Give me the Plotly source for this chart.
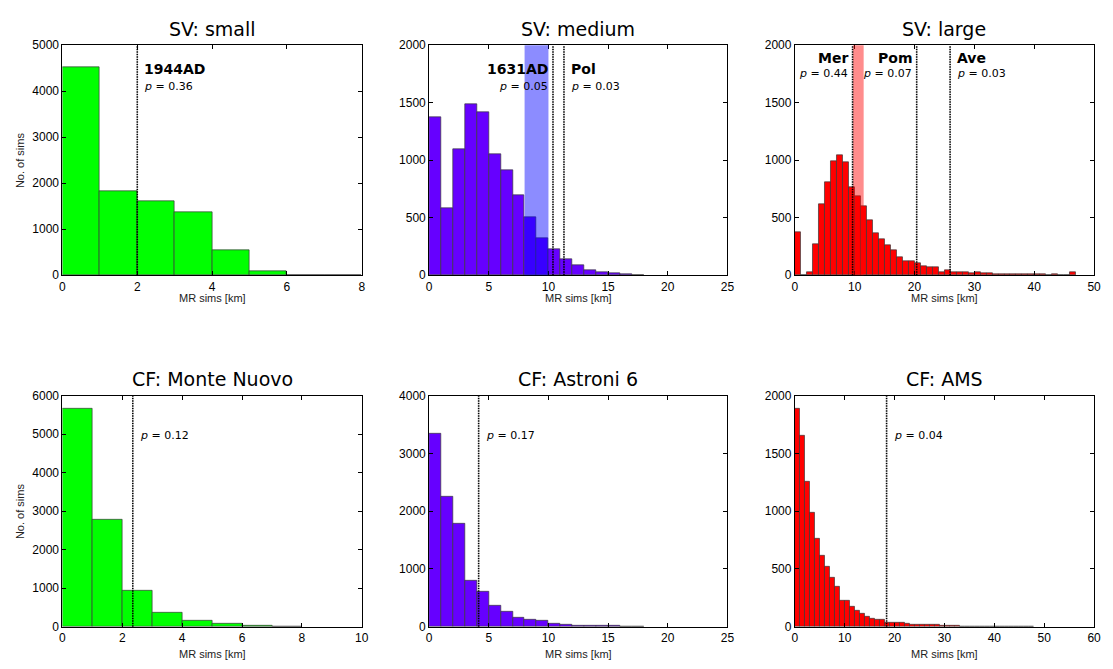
import plotly.graph_objects as go

# Histogram counts of simulated maximum runout (MR), 1 km bins starting at 0 km
sv_small_counts = [4525, 1830, 1617, 1369, 553, 92, 8, 0]
sv_medium_counts = [1370, 587, 1092, 1489, 1418, 1055, 916, 698, 503, 323,
                    231, 137, 86, 46, 29, 17, 9, 3]
sv_large_counts = [371, 0, 29, 271, 618, 806, 993, 1044, 982, 769,
                   687, 601, 477, 366, 314, 260, 220, 154, 126, 126,
                   109, 80, 74, 66, 31, 40, 29, 31, 26, 20,
                   23, 14, 14, 11, 6, 9, 9, 11, 9, 9,
                   6, 6, 3, 6, 3, 0, 31]
cf_monte_nuovo_counts = [5653, 2772, 938, 372, 152, 76, 17, 3]
cf_astroni_counts = [3347, 2248, 1786, 806, 614, 361, 259, 158, 124, 101,
                     56, 39, 23, 23, 11, 11, 6, 3]
cf_ams_counts = [1884, 1658, 1252, 983, 760, 616, 520, 421, 350, 223,
                 223, 172, 138, 110, 90, 73, 59, 57, 37, 36,
                 33, 38, 30, 22, 22, 15, 15, 15, 15, 8,
                 10, 6, 5, 3, 2, 2, 2, 2, 2, 3,
                 1, 1, 1, 1, 1, 1, 1, 3]

# Observed runouts of reference eruptions and their p-values
sv_small_obs = [("1944AD", 2.0, "0.36", "right")]
sv_medium_obs = [("1631AD", 10.38, "0.05", "left"), ("Pol", 11.3, "0.03", "right")]
sv_large_obs = [("Mer", 9.65, "0.44", "left"), ("Pom", 20.36, "0.07", "left"),
                ("Ave", 25.94, "0.03", "right")]
cf_monte_nuovo_obs = [("", 2.35, "0.12", "right")]
cf_astroni_obs = [("", 4.15, "0.17", "right")]
cf_ams_obs = [("", 18.4, "0.04", "right")]

# Shaded ranges (km)
sv_medium_band = (8.0, 10.0)
sv_large_band = (9.7, 11.5)

GREEN = "#00FF00"
PURPLE = "#6600FF"
RED = "#FF0000"

panels = [
    dict(title="SV: small", counts=sv_small_counts, color=GREEN, obs=sv_small_obs,
         xr=[0, 8], xt=[0, 2, 4, 6, 8], yr=[0, 5000], yt=[0, 1000, 2000, 3000, 4000, 5000],
         band=None, ylabel=True, ypos=(0.897, 0.821)),
    dict(title="SV: medium", counts=sv_medium_counts, color=PURPLE, obs=sv_medium_obs,
         xr=[0, 25], xt=[0, 5, 10, 15, 20, 25], yr=[0, 2000], yt=[0, 500, 1000, 1500, 2000],
         band=(sv_medium_band, "rgba(0,0,255,0.45)"), ylabel=False, ypos=(0.897, 0.821)),
    dict(title="SV: large", counts=sv_large_counts, color=RED, obs=sv_large_obs,
         xr=[0, 50], xt=[0, 10, 20, 30, 40, 50], yr=[0, 2000], yt=[0, 500, 1000, 1500, 2000],
         band=(sv_large_band, "rgba(255,0,0,0.45)"), ylabel=False, ypos=(0.945, 0.877)),
    dict(title="CF: Monte Nuovo", counts=cf_monte_nuovo_counts, color=GREEN, obs=cf_monte_nuovo_obs,
         xr=[0, 10], xt=[0, 2, 4, 6, 8, 10], yr=[0, 6000], yt=[0, 1000, 2000, 3000, 4000, 5000, 6000],
         band=None, ylabel=True, ypos=(0.9, 0.826)),
    dict(title="CF: Astroni 6", counts=cf_astroni_counts, color=PURPLE, obs=cf_astroni_obs,
         xr=[0, 25], xt=[0, 5, 10, 15, 20, 25], yr=[0, 4000], yt=[0, 1000, 2000, 3000, 4000],
         band=None, ylabel=False, ypos=(0.9, 0.826)),
    dict(title="CF: AMS", counts=cf_ams_counts, color=RED, obs=cf_ams_obs,
         xr=[0, 60], xt=[0, 10, 20, 30, 40, 50, 60], yr=[0, 2000], yt=[0, 500, 1000, 1500, 2000],
         band=None, ylabel=False, ypos=(0.9, 0.826)),
]

W, H = 1113, 669
col_px = [(60, 362), (430, 731), (799, 1101)]
row_px = [(39, 274), (397, 633)]

TICK_FONT = dict(family="Liberation Sans, Arial, sans-serif", size=12, color="black")
TITLE_FONT = dict(family="DejaVu Sans, sans-serif", size=19, color="black")
LABEL_FONT = dict(family="DejaVu Sans, sans-serif", size=14, color="black")
P_FONT = dict(family="DejaVu Sans, sans-serif", size=11, color="black")
AXTITLE_FONT = dict(family="Liberation Sans, Arial, sans-serif", size=11, color="#222")

fig = go.Figure()
layout = dict(width=W, height=H, margin=dict(l=0, r=0, t=0, b=0),
              paper_bgcolor="white", plot_bgcolor="white", showlegend=False,
              bargap=0, shapes=[], annotations=[])

for i, p in enumerate(panels):
    r, c = divmod(i, 3)
    n = i + 1
    xa = "x" if n == 1 else f"x{n}"
    ya = "y" if n == 1 else f"y{n}"
    x0p, x1p = col_px[c]
    y0p, y1p = row_px[r]
    xdom = [x0p / W, x1p / W]
    ydom = [1 - y1p / H, 1 - y0p / H]

    centers = [k + 0.5 for k in range(len(p["counts"]))]
    fig.add_trace(go.Bar(x=centers, y=p["counts"], width=1, xaxis=xa, yaxis=ya,
                         marker=dict(color=p["color"], line=dict(color="#3a3a3a", width=0.7)),
                         hoverinfo="x+y"))

    axis_common = dict(showline=True, mirror="ticks", linecolor="black", linewidth=1,
                       ticks="inside", ticklen=4, tickwidth=1, tickcolor="black",
                       showgrid=False, zeroline=False, tickfont=TICK_FONT)
    layout["xaxis" if n == 1 else f"xaxis{n}"] = dict(
        domain=xdom, range=p["xr"], tickvals=p["xt"], anchor=ya, **axis_common)
    layout["yaxis" if n == 1 else f"yaxis{n}"] = dict(
        domain=ydom, range=p["yr"], tickvals=p["yt"], anchor=xa, **axis_common)

    xref = xa
    ydref = f"{ya} domain"

    # shaded range, drawn over the bars
    if p["band"]:
        (b0, b1), fc = p["band"]
        layout["shapes"].append(dict(type="rect", xref=xref, yref=ydref, x0=b0, x1=b1,
                                     y0=0, y1=1, fillcolor=fc, line=dict(width=0),
                                     layer="above"))

    # observed runout lines with labels
    for name, xv, pv, side in p["obs"]:
        layout["shapes"].append(dict(type="line", xref=xref, yref=ydref, x0=xv, x1=xv,
                                     y0=0, y1=1, layer="above",
                                     line=dict(color="black", width=1.6, dash="1.5px,1px")))
        anchor = "left" if side == "right" else "right"
        shift = 5 if side == "right" else -3
        ly, py = p["ypos"]
        if name:
            layout["annotations"].append(dict(xref=xref, yref=ydref, x=xv, y=ly,
                                              text=f"<b>{name}</b>", showarrow=False,
                                              xanchor=anchor, yanchor="middle", xshift=shift,
                                              font=LABEL_FONT))
        layout["annotations"].append(dict(xref=xref, yref=ydref, x=xv, y=py,
                                          text=f"<i>p</i> = {pv}", showarrow=False,
                                          xanchor=anchor, yanchor="middle", xshift=shift,
                                          font=P_FONT))

    # panel title
    title_y = 22 if r == 0 else 380
    layout["annotations"].append(dict(xref="paper", yref="paper", x=(x0p + x1p) / 2 / W,
                                      y=1 - title_y / H, text=p["title"], showarrow=False,
                                      xanchor="center", yanchor="middle", font=TITLE_FONT))
    # x axis title
    xt_y = 297 if r == 0 else 661
    layout["annotations"].append(dict(xref="paper", yref="paper", x=(x0p + x1p) / 2 / W,
                                      y=1 - xt_y / H, text="MR sims [km]", showarrow=False,
                                      xanchor="center", yanchor="middle", font=AXTITLE_FONT))
    if p["ylabel"]:
        layout["annotations"].append(dict(xref="paper", yref="paper", x=17 / W,
                                          y=1 - (y0p + y1p) / 2 / H, text="No. of sims",
                                          showarrow=False, textangle=-90,
                                          xanchor="center", yanchor="middle",
                                          font=AXTITLE_FONT))

fig.update_layout(**layout)
fig.write_html("out.html")
